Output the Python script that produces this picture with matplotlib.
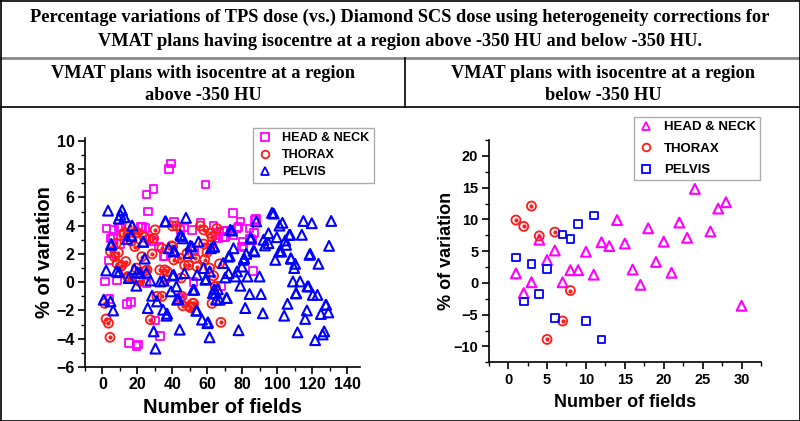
import matplotlib
matplotlib.use("Agg")
import matplotlib.pyplot as plt
from matplotlib.lines import Line2D
from matplotlib.ticker import MultipleLocator

plt.rcParams["font.family"] = ["Liberation Sans", "DejaVu Sans"]

# ---- left plot data: isocentre above -350 HU ----
hn_above_x = [39.2, 38.1, 59, 29.1, 25.1, 26.1, 2.3, 41, 9.9, 5.9, 10.3, 22.7, 29, 34.9, 46.7, 51.2,
              56, 63.6, 74.7, 78.9, 88, 84.2, 86.9, 85.5, 80.8, 86, 52.2, 68, 44.6, 1.3, 4, 14.1,
              16.4, 8.2, 25.1, 30.3, 33.1, 15.2, 20.4, 19.5, 3.6, 35.6, 52.6, 9.1, 22.1, 24.6,
              69.3, 70.3, 66.3, 6.5, 4.6, 26.9, 32.2, 44.6, 75, 80.2, 71.2, 77.3, 69, 64.6,
              77.9, 84.6, 79.8, 87.4]
hn_above_y = [8.4, 8.0, 6.9, 6.6, 6.2, 5.0, 3.8, 4.3, 3.86, 3.2, 2.7, 3.9, 2.9, 1.86, 3.86, 3.7,
              4.17, 4.0, 4.9, 4.3, 4.45, 3.8, 3.46, 3.0, 2.5, 0.8, 0.0, -0.25, -1.1, 0.05, -1.2, -1.55,
              -1.4, 0.17, -0.06, -2.7, -3.8, -4.3, -4.4, -4.5, 1.53, 1.86, 2.2, 3.86, 3.9, 3.84,
              3.6, 3.18, 3.08, 3.7, 3.1, 3.1, 2.52, 3.7, 3.3, 2.87, 3.63, 3.82, 3.2, 3.35,
              3.9, 3.1, 2.52, 4.4]

th_above_x = [1.3, 2.1, 3.4, 4.3, 4.6, 6.9, 9.1, 8.4, 11, 13.3, 14.5, 19.4, 21.3, 22.5, 25.5, 28.4,
              27.4, 31.2, 32.8, 35.6, 36, 40.8, 44.2, 45.5, 46, 48.4, 49.3, 49.9, 52.2, 53.1, 54.1,
              58.5, 59.8, 61.3, 63.6, 62.7, 67, 64.6, 67.8, 8, 15.6, 18.9, 12.2, 24, 26.7, 30.1,
              29.3, 40, 42.3, 39.6, 56, 57.9, 61.7, 62.7, 65.5, 62.1, 12.4, 20.2, 18.5, 40.2,
              57.9, 10.3, 15, 20.7, 24.6, 37, 45.1, 47, 34.1, 50.3, 51.6, 16.5, 34]
th_above_y = [-1.5, -2.6, -2.9, -3.9, 2.17, 1.8, 2.1, 1.3, 1.18, 1.46, 0.4, 1.0, 0.05, 1.8, 0.87, 2.0,
              -2.65, -1.0, 0.87, 0.87, 0.17, 1.58, 1.7, -1.0, -1.67, 2.05, 1.2, -1.7, -1.5, 1.7, 1.1,
              1.6, 2.1, 1.0, 0.45, -1.5, 1.3, -0.3, -2.84, 2.76, 3.98, 3.46, 3.35, 3.18, 3.06, 3.7,
              3.1, 3.98, 3.98, 2.57, 3.98, 3.7, 3.46, 3.2, 3.8, 2.64, 3.5, 3.5, 2.52, 2.52,
              2.7, 1.1, 0.33, 0.1, 0.8, 0.76, 0.3, 1.2, -1.0, -1.8, -1.5, 2.9, 2.4]

pv_above_x = [3.2, 11.2, 10.3, 12.7, 9.3, 17, 36.2, 47.8, 5, 14.1, 16.4, 23.3, 24.2, 37.9, 40.8, 44.6,
              46.1, 50.3, 55, 62.1, 64, 49.3, 73.1, 84.6, 88, 97, 98, 101.3, 103, 107.4, 114.1, 115,
              119.8, 130.9, 129.7, 118.9, 123.6, 110.3, 101.7, 99.8, 105.1, 92.2, 95, 93, 80.8, 72.8,
              75, 86.5, 82.3, 69, 72.2, 77, 79.8, 76, 83, 89.9, 78.9, 84.2, 90.7, 81.7, 91.8, 77.9,
              61.3, 57, 60.4, 54.1, 51.8, 64.6, 67, 70.9, 66, 101.3, 107.8, 109.7, 109, 113.1, 117.3,
              118.5, 110.9, 120.4, 123, 105.9, 104, 117, 116, 128, 129.3, 125, 111.6, 126.9, 126,
              121.7, 0.7, 4.6, 6.1, 2.1, 8, 9.5, 15, 18.3, 20, 21.5, 25.1, 19.4, 27.4, 28.4, 31.2,
              25.9, 34.7, 37, 29.3, 30.3, 44.2, 33.1, 35, 39.2, 42.7, 42.3, 40.8, 46.9, 52.6, 54.1,
              59.4, 57.9, 61.3, 64, 63.2, 65.1, 98.9, 108, 81.1, 72.2, 117.9, 71.2, 110.7, 127.8,
              95, 106.9, 104.6, 85.1, 74.1, 102.3, 87, 45.1, 51.2, 63.6, 41.1, 23.2, 16.6, 5.1,
              40.2, 58.9, 70.3, 43.6, 36.6, 53.7, 60, 35.9]
pv_above_y = [5.06, 5.1, 4.76, 4.6, 4.5, 4.0, 4.3, 4.55, 2.7, 3.06, 3.3, 2.85, 1.67, 2.4, 2.17, 3.35,
              3.1, 2.57, 2.87, 2.4, 2.5, 2.05, 3.7, 3.1, 4.3, 4.9, 4.85, 4.0, 4.2, 3.35, 3.35, 4.33,
              4.17, 4.33, 2.57, 2.0, 1.3, 1.3, 2.2, 3.18, 2.64, 3.0, 2.76, 2.6, 1.58, 1.86,
              2.4, 2.24, 2.0, 1.35, 0.64, 0.76, 1.1, 0.4, 0.4, 0.4, -0.25, -0.84, -0.84, -1.83, -2.2, -3.4,
              -3.9, -2.65, -2.84, -2.0, -0.54, -0.77, -1.24, -1.12, -0.5, 2.17, 1.7, 1.0, 0.05, 0.05, -0.3,
              1.93, -0.77, -0.9, -0.9, -1.53, -2.37, -2.0, -2.6, -1.6, -2.14, -2.25, -3.55, -3.48, -3.7,
              -4.1, -1.24, -1.36, -2.0, 0.83, 0.76, 0.7, 0.29, 0.92, 0.7, 0.65, 0.68, -0.25, 0.12, -0.96, -1.36,
              -1.83, -1.95, -2.23, -3.48, -4.7, -3.36, 0.05, 0.1, -0.65, -1.24, -0.3, 0.52, 0.64, -0.54, 0.52,
              0.22, 1.0, 0.76, -0.49, -0.77, -1.24, 1.58, 1.65, 1.7, 1.8, -0.3, -1.12, -0.8, -1.6,
              3.46, 3.35, 2.95, 3.1, 3.65, 2.17, 2.17, 3.27, 2.52, 2.52, 2.24, 2.87, 3.27, 2.64,
              0.47, 0.17, 0.33, -1.2, -2.37, -2.02, -2.9, 4.3]

# ---- right plot data: isocentre below -350 HU ----
hn_below_x = [1, 2, 3, 4, 5, 6, 7, 8, 9, 10, 11, 12, 13, 14, 15, 16, 17, 18, 19, 20, 21, 22, 23, 24,
              26, 27, 28, 30]
hn_below_y = [1.5, -1.6, 0.1, 6.8, 3.6, 5.1, 0.1, 2.0, 2.0, 4.9, 1.3, 6.4, 5.8, 9.9, 6.2, 2.1, -0.3,
              8.6, 3.3, 6.5, 1.6, 9.5, 7.1, 14.8, 8.1, 11.7, 12.7, -3.6]
th_below_x = [1, 2, 3, 4, 5, 6, 7, 8]
th_below_y = [9.9, 8.9, 12.1, 7.4, -8.9, 8.0, -6.0, -1.2]
pv_below_x = [1, 2, 3, 4, 5, 6, 7, 8, 9, 10, 11, 12]
pv_below_y = [4.0, -2.9, 3.0, -1.7, 2.2, -5.5, 7.6, 6.9, 9.3, -6.0, 10.6, -8.9]

MAG = "#ff00ff"
RED = "#ff1a1a"
BLUE = "#0000ff"

fig = plt.figure(figsize=(8, 4.21), dpi=100)


def thorax(ax, x, y):
    ax.scatter(x, y, s=42, marker="o", facecolors="none", edgecolors=RED, linewidths=1.3, zorder=3)
    ax.scatter(x, y, s=4, marker="o", color=RED, zorder=3)


def style(ax, tick_size, label_size, xlab_y, ylab_x):
    for side in ["top", "right"]:
        ax.spines[side].set_visible(False)
    for side in ["left", "bottom"]:
        ax.spines[side].set_linewidth(1.2)
    ax.tick_params(which="major", direction="out", length=5, width=1.2, labelsize=tick_size, pad=2.5)
    ax.tick_params(which="minor", direction="out", length=3, width=1.0)
    for lab in ax.get_xticklabels() + ax.get_yticklabels():
        lab.set_fontweight("bold")
    ax.set_xlabel("Number of fields", fontsize=label_size, fontweight="bold")
    ax.set_ylabel("% of variation", fontsize=label_size, fontweight="bold")
    ax.xaxis.set_label_coords(0.5, xlab_y)
    ax.yaxis.set_label_coords(ylab_x, 0.5)


# left plot
ax1 = fig.add_axes([85 / 800, 1 - 367 / 421, 275 / 800, 229 / 421])
ax1.scatter(hn_above_x, hn_above_y, s=30, marker="s", facecolors="none", edgecolors=MAG,
            linewidths=1.3, zorder=3)
thorax(ax1, th_above_x, th_above_y)
ax1.scatter(pv_above_x, pv_above_y, s=50, marker="^", facecolors="none", edgecolors=BLUE,
            linewidths=1.5, zorder=3)
ax1.set_xlim(-10, 147.4)
ax1.set_ylim(-6, 10.2)
ax1.xaxis.set_major_locator(MultipleLocator(20))
ax1.xaxis.set_minor_locator(MultipleLocator(10))
ax1.yaxis.set_major_locator(MultipleLocator(2))
ax1.yaxis.set_minor_locator(MultipleLocator(1))
style(ax1, 11.5, 14.5, -0.135, -0.113)

# right plot
ax2 = fig.add_axes([488.7 / 800, 1 - 362.3 / 421, 272.3 / 800, 222.3 / 421])
ax2.scatter(hn_below_x, hn_below_y, s=50, marker="^", facecolors="none", edgecolors=MAG,
            linewidths=1.5, zorder=3)
thorax(ax2, th_below_x, th_below_y)
ax2.scatter(pv_below_x, pv_below_y, s=30, marker="s", facecolors="none", edgecolors=BLUE,
            linewidths=1.3, zorder=3)
ax2.set_xlim(-2.5, 32.5)
ax2.set_ylim(-12.5, 22.5)
ax2.xaxis.set_major_locator(MultipleLocator(5))
ax2.xaxis.set_minor_locator(MultipleLocator(2.5))
ax2.yaxis.set_major_locator(MultipleLocator(5))
ax2.yaxis.set_minor_locator(MultipleLocator(2.5))
style(ax2, 10.5, 13, -0.143, -0.122)


def legend_handles(first, third):
    ring = Line2D([], [], ls="none", marker="o", mfc="none", mec=RED, ms=5.5, mew=1.3)
    return [
        Line2D([], [], ls="none", marker=first[0], mfc="none", mec=first[1], ms=5.5, mew=1.3),
        ring,
        Line2D([], [], ls="none", marker=third[0], mfc="none", mec=third[1], ms=5.5, mew=1.3),
    ]


labels = ["HEAD & NECK", "THORAX", "PELVIS"]
leg1 = fig.legend(legend_handles(("s", MAG), ("^", BLUE)), labels, loc="upper left",
                  bbox_to_anchor=(253 / 800, 1 - 128 / 421), frameon=True, fancybox=False,
                  prop={"weight": "bold", "size": 9}, handletextpad=0.8, labelspacing=0.4,
                  borderpad=0.35, handlelength=1.2, borderaxespad=0)
leg1.get_frame().set_edgecolor("#999999")
leg2 = fig.legend(legend_handles(("^", MAG), ("s", BLUE)), labels, loc="upper left",
                  bbox_to_anchor=(634 / 800, 1 - 117 / 421), frameon=True, fancybox=False,
                  prop={"weight": "bold", "size": 9.5}, handletextpad=0.8, labelspacing=0.7,
                  borderpad=0.3, handlelength=1.2, borderaxespad=0)
leg2.get_frame().set_edgecolor("#999999")

# table-like header
serif = {"family": "Liberation Serif", "weight": "bold", "size": 13.2}
fig.text(0.5, 1 - 17 / 421, "Percentage variations of TPS dose (vs.) Diamond SCS dose using heterogeneity corrections for",
         ha="center", va="center", fontdict=serif)
fig.text(0.5, 1 - 42 / 421, "VMAT plans having isocentre at a region above -350 HU and below -350 HU.",
         ha="center", va="center", fontdict=serif)
fig.text(203 / 800, 1 - 74 / 421, "VMAT plans with isocentre at a region", ha="center", va="center", fontdict=serif)
fig.text(203 / 800, 1 - 96 / 421, "above -350 HU", ha="center", va="center", fontdict=serif)
fig.text(603 / 800, 1 - 74 / 421, "VMAT plans with isocentre at a region", ha="center", va="center", fontdict=serif)
fig.text(603 / 800, 1 - 96 / 421, "below -350 HU", ha="center", va="center", fontdict=serif)


def hline(ypx, color="black", lw=1.2):
    fig.add_artist(Line2D([0, 1], [1 - ypx / 421] * 2, color=color, lw=lw, transform=fig.transFigure))


hline(0.5)
hline(58, color="#888888", lw=2)
hline(107)
hline(420.5)
fig.add_artist(Line2D([0.5 / 800] * 2, [0, 1], color="black", lw=1.2, transform=fig.transFigure))
fig.add_artist(Line2D([799.5 / 800] * 2, [0, 1], color="black", lw=1.2, transform=fig.transFigure))
fig.add_artist(Line2D([405 / 800] * 2, [1 - 58 / 421, 1 - 107 / 421], color="black", lw=1.2,
                      transform=fig.transFigure))

fig.savefig("out.png", dpi=100)
